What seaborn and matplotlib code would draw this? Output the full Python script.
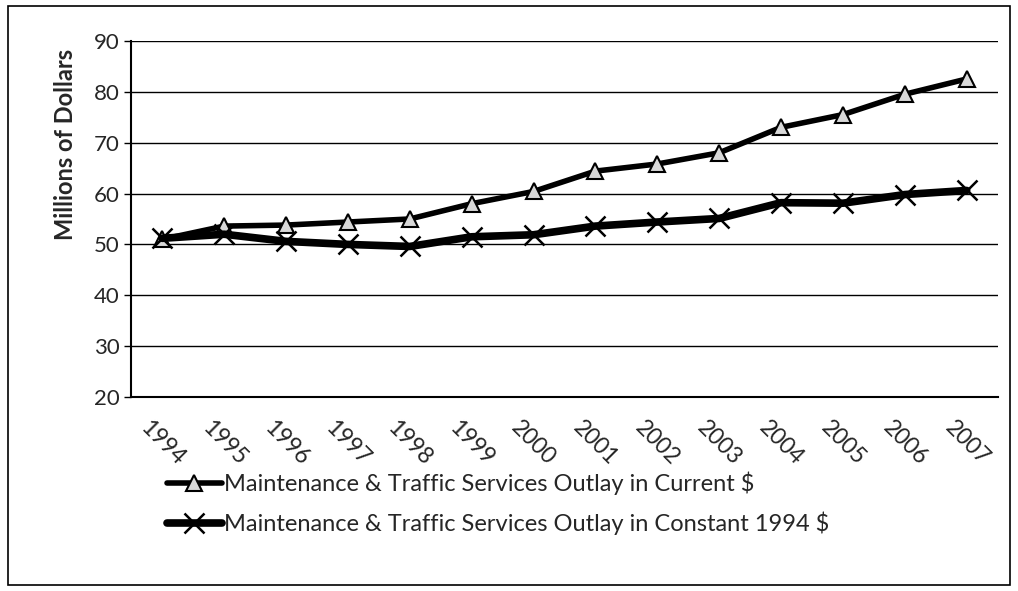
import pandas as pd
import matplotlib.pyplot as plt
import seaborn as sns
from matplotlib.patches import Rectangle

# values (millions of dollars)
years = ['1994', '1995', '1996', '1997', '1998', '1999', '2000',
         '2001', '2002', '2003', '2004', '2005', '2006', '2007']
current = [51.0, 53.6, 53.8, 54.4, 55.0, 58.0, 60.4,
           64.4, 65.8, 68.0, 73.0, 75.5, 79.5, 82.5]
constant = [51.2, 52.0, 50.6, 50.0, 49.6, 51.5, 51.9,
            53.6, 54.4, 55.1, 58.2, 58.1, 59.8, 60.6]

label_cur = 'Maintenance & Traffic Services Outlay in Current $'
label_con = 'Maintenance & Traffic Services Outlay in Constant 1994 $'

df = pd.DataFrame({'pos': range(len(years)), 'year': years,
                   'current': current, 'constant': constant})

sns.set_style('white')
plt.rcParams['font.family'] = ['Lato', 'DejaVu Sans']

fig = plt.figure(figsize=(10.18, 5.91), dpi=100)
ax = fig.add_axes([0.129, 0.328, 0.851, 0.603])

sns.lineplot(data=df, x='pos', y='current', ax=ax, color='black', linewidth=4,
             marker='^', markersize=12, markerfacecolor='#d8d8d8',
             markeredgecolor='black', markeredgewidth=1.5, label=label_cur)
sns.lineplot(data=df, x='pos', y='constant', ax=ax, color='black', linewidth=5.5,
             marker='x', markersize=14, markeredgewidth=1.8,
             markeredgecolor='black', label=label_con)

ax.set_ylim(20, 90)
ax.set_yticks(range(20, 91, 10))
ax.set_xlim(-0.5, len(years) - 0.5)
ax.set_xticks(range(len(years)))
ax.set_xticklabels(years, rotation=-45, fontsize=16.5)
ax.set_xticks([i - 0.5 for i in range(len(years) + 1)], minor=True)
ax.tick_params(axis='x', which='major', length=0, pad=14)
ax.tick_params(axis='x', which='minor', length=6, width=1, color='black', direction='out')
ax.tick_params(axis='y', labelsize=16, length=5, width=1, color='black', direction='out', left=True)
ax.set_xlabel('')
ax.set_ylabel('Millions of Dollars', fontsize=17, fontweight='bold')
ax.yaxis.set_label_coords(-0.063, 0.71)

ax.grid(axis='y', color='black', linewidth=1)
ax.set_axisbelow(True)
for s in ['top', 'right']:
    ax.spines[s].set_visible(False)
for s in ['left', 'bottom']:
    ax.spines[s].set_color('black')
    ax.spines[s].set_linewidth(1.5)

ax.get_legend().remove()
handles, labels = ax.get_legend_handles_labels()
fig.legend(handles, labels, loc='upper left', bbox_to_anchor=(0.155, 0.218),
           frameon=False, fontsize=17, handlelength=2.3, handletextpad=0.1,
           labelspacing=0.7, borderaxespad=0)

# outer chart frame
fig.patches.append(Rectangle((0.008, 0.01), 0.984, 0.98, transform=fig.transFigure,
                             fill=False, edgecolor='black', linewidth=1.2))

fig.savefig('out.png', dpi=100)
